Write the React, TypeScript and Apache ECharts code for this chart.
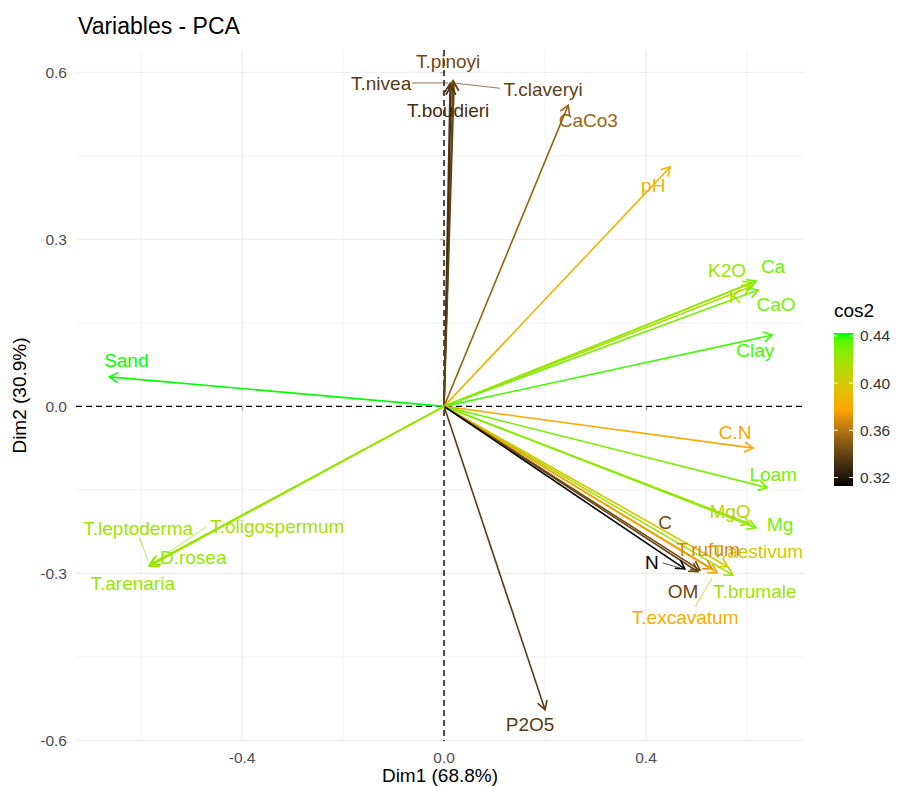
import React, { useEffect, useRef } from "react";
import * as echarts from "echarts";

// ---- data ----
const variables = [
  "T.pinoyi", "T.nivea", "T.boudieri", "T.claveryi", "CaCo3", "pH",
  "Ca", "K2O", "K", "CaO", "Clay", "Sand", "C.N", "Loam", "MgO", "Mg",
  "T.brumale", "T.aestivum", "T.rufum", "T.excavatum", "C", "OM", "N", "P2O5",
  "T.leptoderma", "T.oligospermum", "D.rosea", "T.arenaria",
];
const dim1 = [
  0.018, 0.012, 0.014, 0.020, 0.246, 0.448,
  0.618, 0.610, 0.608, 0.622, 0.650, -0.663, 0.612, 0.640, 0.606, 0.618,
  0.572, 0.562, 0.531, 0.541, 0.507, 0.503, 0.477, 0.200,
  -0.582, -0.580, -0.584, -0.583,
];
const dim2 = [
  0.585, 0.580, 0.575, 0.582, 0.541, 0.430,
  0.225, 0.222, 0.215, 0.209, 0.128, 0.053, -0.075, -0.146, -0.211, -0.218,
  -0.303, -0.288, -0.292, -0.299, -0.294, -0.297, -0.292, -0.545,
  -0.285, -0.283, -0.286, -0.287,
];
const xMajorTicks = [-0.4, 0.0, 0.4];
const xMinorGrid = [-0.6, -0.2, 0.2, 0.6];
const yMajorTicks = [-0.6, -0.3, 0.0, 0.3, 0.6];
const yMinorGrid = [-0.45, -0.15, 0.15, 0.45];
const legendTicks = [0.32, 0.36, 0.40, 0.44];
const gradientColors: [number, number, number][] = [
  [0, 0, 0], [255, 165, 0], [0, 255, 0],
];

// ---- layout (pixel offsets of repelled labels relative to arrow tips) ----
const labelOffset: Record<string, [number, number]> = {
  "T.pinoyi": [-5, -19], "T.nivea": [-69, 0], "T.boudieri": [-3, 24], "T.claveryi": [89, 7],
  "CaCo3": [20, 15], "pH": [-17, 19], "Ca": [17, -15], "K2O": [-25, -12], "K": [-16, 10],
  "CaO": [18, 15], "Clay": [-17, 15], "Sand": [17, -16], "C.N": [-18, -16], "Loam": [6, -13],
  "MgO": [-20, -12], "Mg": [24, -3], "T.brumale": [22, 16], "T.aestivum": [30, -15],
  "T.rufum": [-4, -19], "T.excavatum": [-32, 45], "C": [-35, -48], "OM": [-15, 20],
  "N": [-33, -6], "P2O5": [-15, 15], "T.leptoderma": [-12, -37], "T.oligospermum": [126, -37],
  "D.rosea": [44, -8], "T.arenaria": [-17, 17],
};
const leaderLines: Record<string, [number, number, number, number]> = {
  "T.nivea": [-38, -0.5, -2, -0.5],
  "T.claveryi": [2, 1, 46, 6],
  "T.excavatum": [-22, 34, -5, 5],
  "N": [-22, -6, -5, -1],
  "T.leptoderma": [-11, -28, -2, -4],
  "T.oligospermum": [55, -37, 6, -4],
};

const FONT = '"Liberation Sans", Arial, Helvetica, sans-serif';

// ---- Lab colour interpolation (like ggplot's gradientn) ----
function toLin(c: number) { c /= 255; return c <= 0.04045 ? c / 12.92 : Math.pow((c + 0.055) / 1.055, 2.4); }
function fromLin(c: number) {
  const v = c <= 0.0031308 ? 12.92 * c : 1.055 * Math.pow(c, 1 / 2.4) - 0.055;
  return Math.round(Math.max(0, Math.min(1, v)) * 255);
}
function rgbToLab(rgb: [number, number, number]) {
  const R = toLin(rgb[0]), G = toLin(rgb[1]), B = toLin(rgb[2]);
  const X = (0.4124564 * R + 0.3575761 * G + 0.1804375 * B) / 0.95047;
  const Y = 0.2126729 * R + 0.7151522 * G + 0.072175 * B;
  const Z = (0.0193339 * R + 0.119192 * G + 0.9503041 * B) / 1.08883;
  const f = (t: number) => (t > 0.008856 ? Math.cbrt(t) : 7.787 * t + 16 / 116);
  const fx = f(X), fy = f(Y), fz = f(Z);
  return [116 * fy - 16, 500 * (fx - fy), 200 * (fy - fz)];
}
function labToHex(L: number, a: number, b: number) {
  const fy = (L + 16) / 116, fx = fy + a / 500, fz = fy - b / 200;
  const inv = (t: number) => (t * t * t > 0.008856 ? t * t * t : (t - 16 / 116) / 7.787);
  const X = inv(fx) * 0.95047, Y = inv(fy), Z = inv(fz) * 1.08883;
  const R = 3.2404542 * X - 1.5371385 * Y - 0.4985314 * Z;
  const G = -0.969266 * X + 1.8760108 * Y + 0.041556 * Z;
  const B = 0.0556434 * X - 0.2040259 * Y + 1.0572252 * Z;
  const h = (n: number) => fromLin(n).toString(16).padStart(2, "0");
  return "#" + h(R) + h(G) + h(B);
}
const labStops = gradientColors.map(rgbToLab);
const cos2 = variables.map((_, i) => dim1[i] * dim1[i] + dim2[i] * dim2[i]);
const cMin = Math.min(...cos2);
const cMax = Math.max(...cos2);
function colorAt(t: number) {
  t = Math.max(0, Math.min(1, t));
  const seg = t * (labStops.length - 1);
  const k = Math.min(labStops.length - 2, Math.floor(seg));
  const u = seg - k;
  const A = labStops[k], Bc = labStops[k + 1];
  return labToHex(A[0] + (Bc[0] - A[0]) * u, A[1] + (Bc[1] - A[1]) * u, A[2] + (Bc[2] - A[2]) * u);
}
const colorFor = (v: number) => colorAt((v - cMin) / (cMax - cMin));

export default function App() {
  const ref = useRef<HTMLDivElement>(null);
  useEffect(() => {
    if (!ref.current) return;
    const chart = echarts.init(ref.current, undefined, { renderer: "svg" });
    const arrowData = variables.map((n, i) => [dim1[i], dim2[i], cos2[i], n]);
    const gridData: number[][] = [
      ...xMajorTicks.filter((v) => v !== 0).map((v) => [v, 0, 0, 1.1]),
      ...xMinorGrid.map((v) => [v, 0, 0, 0.6]),
      ...yMajorTicks.filter((v) => v !== 0).map((v) => [0, v, 1, 1.1]),
      ...yMinorGrid.map((v) => [0, v, 1, 0.6]),
    ];

    // colour bar
    const barX = 834, barY = 333, barW = 19, barH = 153;
    const stops = Array.from({ length: 21 }, (_, k) => ({ offset: k / 20, color: colorAt(k / 20) }));
    const legendEls: any[] = [
      { type: "text", left: 834, top: 301, style: { text: "cos2", font: `19px ${FONT}`, fill: "#000" } },
      {
        type: "rect", shape: { x: barX, y: barY, width: barW, height: barH },
        style: { fill: new echarts.graphic.LinearGradient(0, 1, 0, 0, stops) },
      },
    ];
    legendTicks.forEach((v) => {
      const y = barY + barH - ((v - cMin) / (cMax - cMin)) * barH;
      legendEls.push(
        { type: "line", shape: { x1: barX, y1: y, x2: barX + 4, y2: y }, style: { stroke: "#fff", lineWidth: 1 } },
        { type: "line", shape: { x1: barX + barW - 4, y1: y, x2: barX + barW, y2: y }, style: { stroke: "#fff", lineWidth: 1 } },
        { type: "text", x: barX + barW + 7, y, style: { text: v.toFixed(2), font: `15.5px ${FONT}`, fill: "#333", verticalAlign: "middle" } },
      );
    });

    chart.setOption({
      animation: false,
      backgroundColor: "#fff",
      title: {
        text: "Variables - PCA", left: 78, top: 14, padding: 0,
        textStyle: { fontFamily: FONT, fontSize: 23, fontWeight: "normal", color: "#000" },
      },
      grid: { left: 76, right: 101, top: 50, bottom: 46, containLabel: false, outerBoundsMode: "none" },
      xAxis: {
        type: "value", min: -0.729, max: 0.713,
        splitLine: { show: false }, axisLine: { show: false },
        axisTick: { show: true, customValues: xMajorTicks, length: 4, lineStyle: { color: "#333", width: 1.2 } },
        axisLabel: {
          customValues: xMajorTicks, formatter: (v: number) => v.toFixed(1),
          color: "#4D4D4D", fontSize: 15.5, fontFamily: FONT, margin: 8,
        },
        name: "Dim1 (68.8%)", nameLocation: "middle", nameGap: 25, nameMoveOverlap: false,
        nameTextStyle: { color: "#000", fontSize: 19, fontFamily: FONT },
      },
      yAxis: {
        type: "value", min: -0.601, max: 0.64,
        splitLine: { show: false }, axisLine: { show: false },
        axisTick: { show: true, customValues: yMajorTicks, length: 4, lineStyle: { color: "#333", width: 1.2 } },
        axisLabel: {
          customValues: yMajorTicks, formatter: (v: number) => v.toFixed(1),
          color: "#4D4D4D", fontSize: 15.5, fontFamily: FONT, margin: 9,
        },
        name: "Dim2 (30.9%)", nameLocation: "middle", nameGap: 45,
        nameTextStyle: { color: "#000", fontSize: 19, fontFamily: FONT },
      },
      graphic: legendEls,
      series: [
        {
          type: "custom", silent: true, data: gridData, z: 1,
          renderItem: (params: any, api: any) => {
            const cs = params.coordSys;
            const isY = api.value(2) === 1;
            const w = api.value(3);
            if (isY) {
              const y = api.coord([0, api.value(1)])[1];
              return { type: "line", shape: { x1: cs.x, y1: y, x2: cs.x + cs.width, y2: y }, style: { stroke: "#EBEBEB", lineWidth: w } };
            }
            const x = api.coord([api.value(0), 0])[0];
            return { type: "line", shape: { x1: x, y1: cs.y, x2: x, y2: cs.y + cs.height }, style: { stroke: "#EBEBEB", lineWidth: w } };
          },
        },
        {
          type: "custom", silent: true, data: [[0, 0, 0], [0, 0, 1]], z: 2,
          renderItem: (params: any, api: any) => {
            const cs = params.coordSys;
            const o = api.coord([0, 0]);
            const st = { stroke: "#000", lineWidth: 1.4, lineDash: [6, 4] };
            if (api.value(2) === 1)
              return { type: "line", shape: { x1: cs.x, y1: o[1], x2: cs.x + cs.width, y2: o[1] }, style: st };
            return { type: "line", shape: { x1: o[0], y1: cs.y, x2: o[0], y2: cs.y + cs.height }, style: st };
          },
        },
        {
          type: "custom", silent: true, data: arrowData, z: 3, encode: { x: 0, y: 1 },
          renderItem: (params: any, api: any) => {
            const o = api.coord([0, 0]);
            const t = api.coord([api.value(0), api.value(1)]);
            const col = colorFor(api.value(2));
            const ang = Math.atan2(t[1] - o[1], t[0] - o[0]);
            const L = 10, a = Math.PI / 6;
            const p1 = [t[0] - L * Math.cos(ang - a), t[1] - L * Math.sin(ang - a)];
            const p2 = [t[0] - L * Math.cos(ang + a), t[1] - L * Math.sin(ang + a)];
            return {
              type: "group",
              children: [
                { type: "line", shape: { x1: o[0], y1: o[1], x2: t[0], y2: t[1] }, style: { stroke: col, lineWidth: 1.6 } },
                { type: "polyline", shape: { points: [p1, t, p2] }, style: { stroke: col, lineWidth: 1.6, fill: "none" } },
              ],
            };
          },
        },
        {
          type: "custom", silent: true, data: arrowData, z: 4, encode: { x: 0, y: 1 },
          renderItem: (params: any, api: any) => {
            const name = variables[params.dataIndex];
            const t = api.coord([api.value(0), api.value(1)]);
            const col = colorFor(api.value(2));
            const off = labelOffset[name] || [0, -12];
            const children: any[] = [];
            const ll = leaderLines[name];
            if (ll) {
              children.push({
                type: "line",
                shape: { x1: t[0] + ll[0], y1: t[1] + ll[1], x2: t[0] + ll[2], y2: t[1] + ll[3] },
                style: { stroke: col, lineWidth: 0.7 },
              });
            }
            children.push({
              type: "text", x: t[0] + off[0], y: t[1] + off[1],
              style: { text: name, fill: col, font: `19px ${FONT}`, align: "center", verticalAlign: "middle" },
            });
            return { type: "group", children };
          },
        },
      ],
    });
    return () => chart.dispose();
  }, []);
  return <div ref={ref} style={{ position: "fixed", left: 0, top: 0, width: 905, height: 787 }} />;
}
